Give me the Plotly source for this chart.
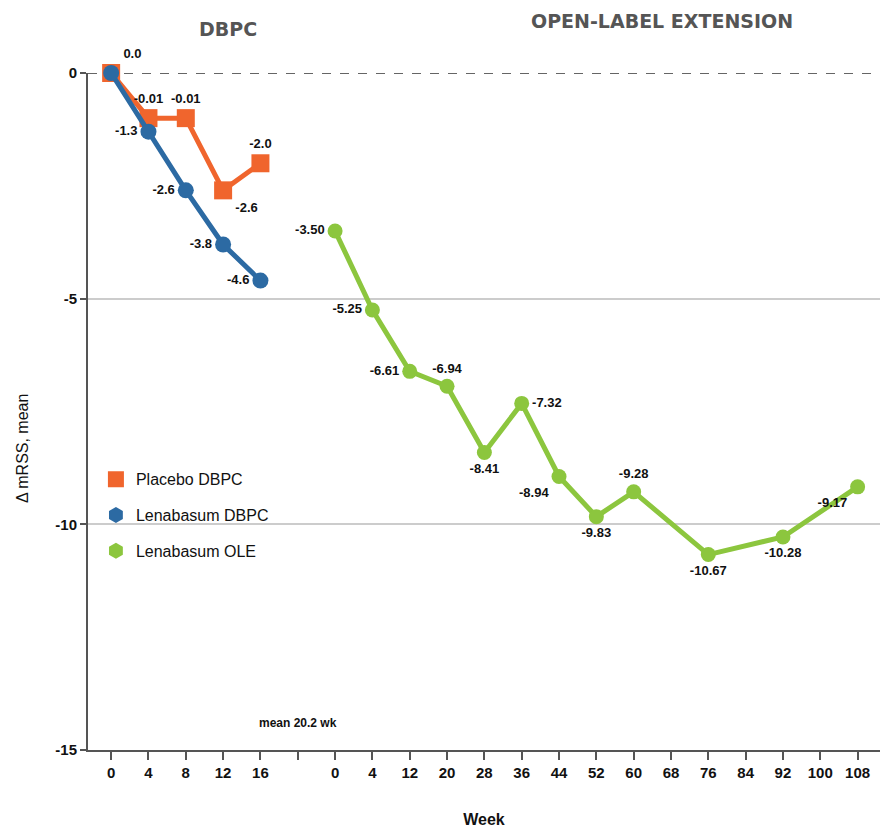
import plotly.graph_objects as go

# ---- data ----
tick_labels = ["0", "4", "8", "12", "16", "", "0", "4", "12", "20", "28", "36",
               "44", "52", "60", "68", "76", "84", "92", "100", "108"]
tick_pos = list(range(len(tick_labels)))

placebo_x = [0, 1, 2, 3, 4]
placebo_y = [0.0, -1.0, -1.0, -2.6, -2.0]
placebo_text = ["0.0", "-0.01", "-0.01", "-2.6", "-2.0"]
placebo_pos = ["top right", "top center", "top center", "bottom right", "top center"]

lena_x = [0, 1, 2, 3, 4]
lena_y = [0.0, -1.3, -2.6, -3.8, -4.6]
lena_text = ["", "-1.3", "-2.6", "-3.8", "-4.6"]
lena_pos = ["middle left"] * 5

ole_x = [6, 7, 8, 9, 10, 11, 12, 13, 14, 16, 18, 20]
ole_y = [-3.50, -5.25, -6.61, -6.94, -8.41, -7.32, -8.94, -9.83, -9.28, -10.67, -10.28, -9.17]
ole_text = ["-3.50", "-5.25", "-6.61", "-6.94", "-8.41", "-7.32", "-8.94", "-9.83",
            "-9.28", "-10.67", "-10.28", "-9.17"]
ole_pos = ["middle left", "middle left", "middle left", "top center", "bottom center",
           "middle right", "bottom left", "bottom center", "top center", "bottom center",
           "bottom center", "bottom left"]

ORANGE = "#f0652d"
BLUE = "#2c6aa3"
GREEN = "#8cc63e"
FONT = "Liberation Sans"
lab_font = dict(family=FONT, size=13, color="#111111", weight="bold")

fig = go.Figure()
series = [
    ("Placebo DBPC", placebo_x, placebo_y, placebo_text, placebo_pos, ORANGE, "square", 18),
    ("Lenabasum DBPC", lena_x, lena_y, lena_text, lena_pos, BLUE, "circle", 16),
    ("Lenabasum OLE", ole_x, ole_y, ole_text, ole_pos, GREEN, "circle", 15),
]
for name, xs, ys, txt, pos, col, sym, sz in series:
    fig.add_trace(go.Scatter(
        x=xs, y=ys, mode="lines+markers+text", name=name, showlegend=False,
        line=dict(color=col, width=5), marker=dict(symbol=sym, size=sz, color=col),
        text=txt, textposition=pos, textfont=lab_font, cliponaxis=False))
for name, xs, ys, txt, pos, col, sym, sz in series:
    fig.add_trace(go.Scatter(
        x=[None], y=[None], mode="markers", name=name, legendgroup=name,
        marker=dict(symbol="hexagon" if sym == "circle" else "square", size=16, color=col)))

fig.add_shape(type="line", xref="paper", yref="y", x0=0, x1=1, y0=0, y1=0,
              line=dict(color="#333333", width=1.5, dash="dash"), layer="below")

fig.add_annotation(text="<b>DBPC</b>", xref="paper", yref="paper", x=0.177, y=1.065,
                   xanchor="center", yanchor="middle", showarrow=False,
                   font=dict(family="DejaVu Sans", size=19, color="#555555"))
fig.add_annotation(text="<b>OPEN-LABEL EXTENSION</b>", xref="paper", yref="paper", x=0.725, y=1.077,
                   xanchor="center", yanchor="middle", showarrow=False,
                   font=dict(family="DejaVu Sans", size=19, color="#555555"))
fig.add_annotation(text="<b>mean 20.2 wk</b>", xref="x", yref="y", x=5.0, y=-14.4,
                   showarrow=False, xanchor="center",
                   font=dict(family=FONT, size=12, color="#111111"))
fig.add_annotation(text="Δ mRSS, mean", xref="paper", yref="paper", x=-0.083, y=0.445,
                   textangle=-90, showarrow=False, xanchor="center", yanchor="middle",
                   font=dict(family=FONT, size=16, color="#111111"))

fig.update_layout(
    width=882, height=831,
    margin=dict(l=88, r=2, t=73, b=81),
    paper_bgcolor="white", plot_bgcolor="white",
    showlegend=True,
    legend=dict(x=0.01, y=0.425, xanchor="left", yanchor="top",
                font=dict(family=FONT, size=16, color="#111111"),
                bgcolor="rgba(0,0,0,0)", tracegroupgap=12, itemwidth=30),
    xaxis=dict(range=[-0.62, 20.6], tickmode="array", tickvals=tick_pos, ticktext=tick_labels,
               showgrid=False, zeroline=False, showline=True, linecolor="#555555", linewidth=2,
               ticks="outside", ticklen=8, tickcolor="#555555", tickwidth=2,
               tickfont=dict(family=FONT, size=15, color="#111111", weight="bold"),
               title=dict(text="Week", standoff=34,
                          font=dict(family=FONT, size=16, color="#111111", weight="bold"))),
    yaxis=dict(range=[-15, 0], tickvals=[0, -5, -10, -15], ticktext=["0", "-5", "-10", "-15"],
               showgrid=True, gridcolor="#cccccc", gridwidth=2, zeroline=False,
               showline=True, linecolor="#555555", linewidth=2,
               ticks="outside", ticklen=6, tickcolor="#555555", tickwidth=2,
               tickfont=dict(family=FONT, size=15, color="#111111", weight="bold")),
)

fig.write_html("out.html")
